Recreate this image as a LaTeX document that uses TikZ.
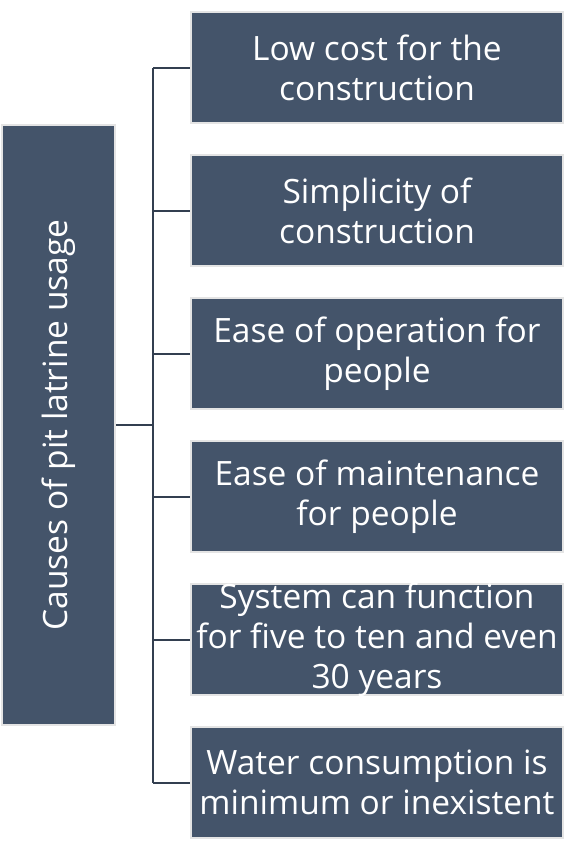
\documentclass[tikz,border=0pt]{standalone}
\usepackage{fontspec}
\setmainfont{Open Sans}
\usetikzlibrary{positioning}
\definecolor{boxblue}{HTML}{44546A}
\definecolor{linkblue}{HTML}{333F50}
\definecolor{rimgray}{HTML}{E4E4E4}
\begin{document}
\begin{tikzpicture}[x=1pt,y=-1pt,
box/.style={draw=rimgray,line width=1.5pt,fill=boxblue,minimum width=372pt,minimum height=111pt,inner sep=0pt},
txt/.style={text=white,align=center,font=\fontsize{33.5}{40}\selectfont,inner sep=0pt},
conn/.style={draw=linkblue,line width=2pt}]
\useasboundingbox (0,0) rectangle (565,844);
\node[box,minimum width=600pt,minimum height=113pt,rotate=90] (root) at (58.5,425) {};
\node[txt,rotate=90] (rootlbl) at (root.center) {Causes of pit latrine usage};
\node[box] (c1) at (377,67.5) {};
\node[txt] (t1) at (c1.center) {Low cost for the\\construction};
\node[box] (c2) at (377,210.5) {};
\node[txt] (t2) at (c2.center) {Simplicity of\\construction};
\node[box] (c3) at (377,353.5) {};
\node[txt] (t3) at (c3.center) {Ease of operation for\\people};
\node[box] (c4) at (377,496.5) {};
\node[txt] (t4) at (c4.center) {Ease of maintenance\\for people};
\node[box] (c5) at (377,639.5) {};
\node[txt] (t5) at (c5.center) {System can function\\for five to ten and even\\30 years};
\node[box] (c6) at (377,782.5) {};
\node[txt] (t6) at (c6.center) {Water consumption is\\minimum or inexistent};
% spine
\coordinate (spine) at (153,425);
\draw[conn] (root) -- (spine);
\draw[conn] (spine |- c1.west) -- (spine |- c6.west);
\draw[conn] (spine |- c1.west) -- (c1.west);
\draw[conn] (spine |- c2.west) -- (c2.west);
\draw[conn] (spine |- c3.west) -- (c3.west);
\draw[conn] (spine |- c4.west) -- (c4.west);
\draw[conn] (spine |- c5.west) -- (c5.west);
\draw[conn] (spine |- c6.west) -- (c6.west);
\end{tikzpicture}
\end{document}
